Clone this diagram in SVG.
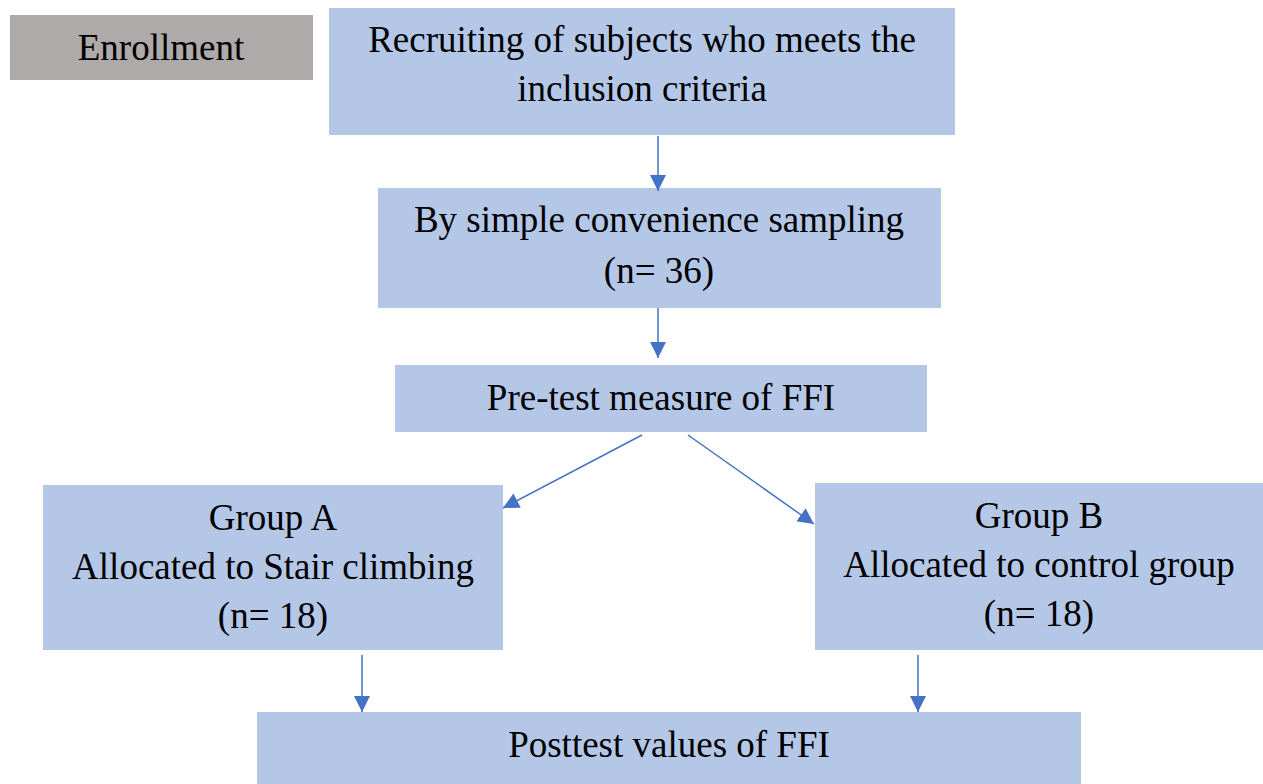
<svg xmlns="http://www.w3.org/2000/svg" width="1263" height="784" viewBox="0 0 1263 784">
<style>
.box{fill:#B4C7E7}
.gray{fill:#AEAAA9}
text{font-family:"Liberation Serif","Times New Roman",serif;font-size:37px;fill:#000;text-anchor:middle}
.c{stroke:#4472C4;stroke-width:1.5;fill:none}
</style>
<defs>
<marker id="ahb" viewBox="0 0 10 10" refX="10" refY="5" markerWidth="16" markerHeight="16" markerUnits="userSpaceOnUse" orient="auto"><path d="M0,0 L10,5 L0,10 Z" fill="#4472C4"/></marker>
</defs>
<g id="enrollment"><rect class="gray" x="10" y="15" width="303" height="65"/><text x="161" y="60">Enrollment</text></g>
<g id="recruiting"><rect class="box" x="329" y="8" width="626" height="127"/><text x="642" y="52">Recruiting of subjects who meets the</text><text x="642" y="101">inclusion criteria</text></g>
<g id="sampling"><rect class="box" x="378" y="188" width="563" height="120"/><text x="659" y="232">By simple convenience sampling</text><text x="659" y="283">(n= 36)</text></g>
<g id="pretest"><rect class="box" x="395" y="365" width="532" height="67"/><text x="661" y="410">Pre-test measure of FFI</text></g>
<g id="groupA"><rect class="box" x="43" y="485" width="460" height="165"/><text x="273" y="530">Group A</text><text x="273" y="579">Allocated to Stair climbing</text><text x="273" y="628">(n= 18)</text></g>
<g id="groupB"><rect class="box" x="815" y="483" width="448" height="167"/><text x="1039" y="528">Group B</text><text x="1039" y="577">Allocated to control group</text><text x="1039" y="626">(n= 18)</text></g>
<g id="posttest"><rect class="box" x="257" y="712" width="824" height="72"/><text x="669" y="757">Posttest values of FFI</text></g>
<g id="connectors">
<line class="c" x1="658" y1="136" x2="658" y2="191" marker-end="url(#ahb)"/>
<line class="c" x1="658" y1="308" x2="658" y2="358" marker-end="url(#ahb)"/>
<line class="c" x1="642" y1="435" x2="503" y2="508" marker-end="url(#ahb)"/>
<line class="c" x1="688" y1="435" x2="814" y2="524" marker-end="url(#ahb)"/>
<line class="c" x1="362" y1="655" x2="362" y2="712" marker-end="url(#ahb)"/>
<line class="c" x1="918" y1="655" x2="918" y2="712" marker-end="url(#ahb)"/>
</g>
</svg>
